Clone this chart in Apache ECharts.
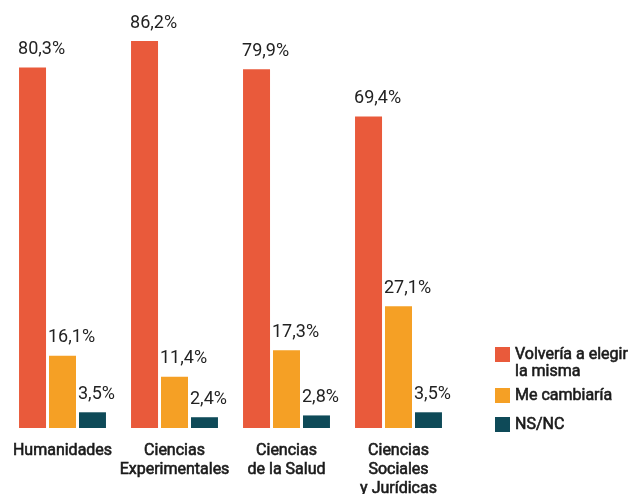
<!DOCTYPE html>
<html>
<head>
<meta charset="utf-8">
<script src="https://cdn.jsdelivr.net/npm/echarts@6/dist/echarts.min.js"></script>
<style>
  html, body { margin: 0; padding: 0; background: #fff; }
  #chart { width: 635px; height: 494px; }
</style>
</head>
<body>
<div id="chart"></div>
<script>
const categories = ["Humanidades", "Ciencias\nExperimentales", "Ciencias\nde la Salud", "Ciencias\nSociales\ny Jurídicas"];
const seriesNames = ["Volvería a elegir\nla misma", "Me cambiaría", "NS/NC"];
const volveria = [80.3, 86.2, 79.9, 69.4];
const cambiaria = [16.1, 11.4, 17.3, 27.1];
const nsnc = [3.5, 2.4, 2.8, 3.5];
const colors = ["#E95A3B", "#F5A025", "#0E4A58"];

const font = "Roboto, 'Noto Sans', sans-serif";
const ink = "#1a1a1a";

const labelStyle = {
  show: true,
  position: [-1, -9],
  align: "left",
  verticalAlign: "bottom",
  fontFamily: font,
  fontSize: 18,
  color: "#222",
  formatter: p => p.value.toFixed(1).replace(".", ",") + "%"
};

function bar(name, data, color) {
  return {
    name: name,
    type: "bar",
    data: data,
    barWidth: 27,
    barGap: "11%",
    itemStyle: {color: color},
    label: labelStyle
  };
}

function legendItem(name, top, multi) {
  return {
    data: [name],
    orient: "vertical",
    left: 495,
    top: top,
    padding: 0,
    itemWidth: 15,
    itemHeight: 15,
    icon: "rect",
    // extra blank first line keeps the icon level with the first text line
    formatter: n => (multi ? "\n" : "") + n,
    textStyle: {
      fontFamily: font,
      fontSize: 16,
      color: ink,
      textBorderColor: ink,
      textBorderWidth: 0.6,
      lineHeight: 17
    }
  };
}

const chart = echarts.init(document.getElementById("chart"));
chart.setOption({
  animation: false,
  color: colors,
  grid: {left: 6.5, width: 448, top: 24, bottom: 66, outerBoundsMode: "none", containLabel: false},
  legend: [
    legendItem(seriesNames[0], 329, true),
    legendItem(seriesNames[1], 387, false),
    legendItem(seriesNames[2], 416, false)
  ],
  xAxis: {
    type: "category",
    data: categories,
    axisLine: {show: false},
    axisTick: {show: false},
    axisLabel: {
      interval: 0,
      margin: 13,
      fontFamily: font,
      fontSize: 16,
      color: ink,
      textBorderColor: ink,
      textBorderWidth: 0.6,
      lineHeight: 19
    }
  },
  yAxis: {
    type: "value",
    min: 0,
    max: 90,
    show: false,
    splitLine: {show: false}
  },
  series: [
    bar(seriesNames[0], volveria, colors[0]),
    bar(seriesNames[1], cambiaria, colors[1]),
    bar(seriesNames[2], nsnc, colors[2])
  ]
});
</script>
</body>
</html>
